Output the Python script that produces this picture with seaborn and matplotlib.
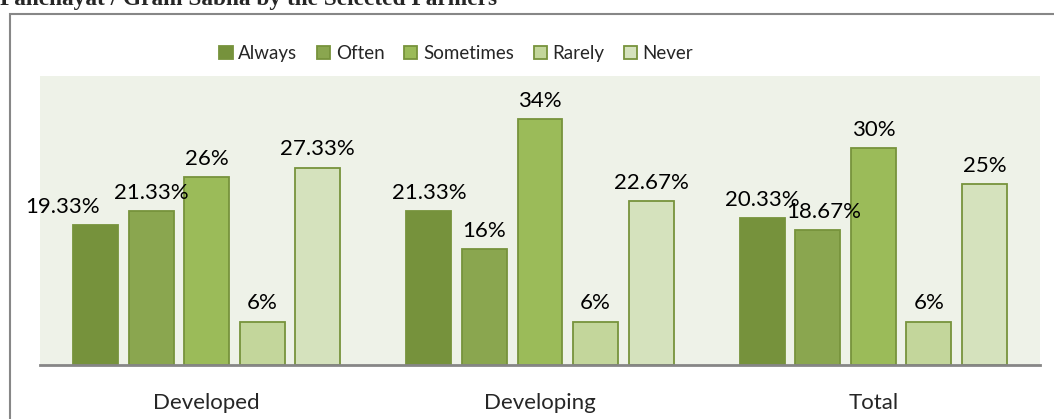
import matplotlib as mtl
mtl.use('Agg')
import pandas as pd
import seaborn as sns
import matplotlib.pyplot as plt
from matplotlib.patches import Rectangle

# data
groups = ['Developed', 'Developing', 'Total']
responses = ['Always', 'Often', 'Sometimes', 'Rarely', 'Never']
developed = [19.33, 21.33, 26, 6, 27.33]
developing = [21.33, 16, 34, 6, 22.67]
total = [20.33, 18.67, 30, 6, 25]
title = 'Panchayat / Gram Sabha by the Selected Farmers'

colors = ['#76923C', '#8AA64F', '#9BBB59', '#C3D69B', '#D5E2BD']

rows = []
for g, vals in zip(groups, [developed, developing, total]):
    for r, v in zip(responses, vals):
        rows.append({'group': g, 'response': r, 'value': v})
df = pd.DataFrame(rows)

sns.set_style('white')
plt.rcParams['font.family'] = ['Lato', 'DejaVu Sans']

fig = plt.figure(figsize=(10.54, 4.19), dpi=100)
ax = fig.add_axes([40/1054, 54/419, 1000/1054, 289/419])

sns.barplot(data=df, x='group', y='value', hue='response', hue_order=responses,
            palette=colors, width=0.833, gap=0.19, edgecolor='#77933C',
            linewidth=1.3, saturation=1, ax=ax)

ax.set_facecolor('#EEF2E8')
ax.set_ylim(0, 40)
ax.set_xlim(-0.5, 2.5)
ax.set_xlabel('')
ax.set_ylabel('')
ax.set_yticks([])
ax.tick_params(axis='x', length=0, pad=20, labelsize=16)
for s in ['top', 'right', 'left']:
    ax.spines[s].set_visible(False)
ax.spines['bottom'].set_color('#868686')
ax.spines['bottom'].set_linewidth(2)

# value labels, a couple nudged sideways as in the original
nudge = {('Developed', 'Always'): -24, ('Total', 'Often'): 4}
for hi, cont in enumerate(ax.containers):
    for gi, bar in enumerate(cont):
        v = bar.get_height()
        dx = nudge.get((groups[gi], responses[hi]), 0)
        ax.annotate('{:g}%'.format(v), xy=(bar.get_x() + bar.get_width()/2, v),
                    xytext=(dx, 6), textcoords='offset points',
                    ha='center', va='bottom', fontsize=16, color='black')

handles, labels = ax.get_legend_handles_labels()
ax.get_legend().remove()
fig.legend(handles, labels, loc='center', bbox_to_anchor=(0.433, 0.873), ncol=5,
           frameon=False, fontsize=13.5, handlelength=0.7, handleheight=0.7,
           handletextpad=0.3, columnspacing=1.05)

# outer chart frame and the caption line above it, clipped at the top like the page
fig.patches.append(Rectangle((10/1054, -0.1), 1.2, 1.1 - 14/419, transform=fig.transFigure,
                             fill=False, edgecolor='#878787', linewidth=1.5))
fig.text(0.0, 1 - 5/419, title, va='baseline', ha='left', fontsize=16.8,
         fontweight='bold', fontfamily='Liberation Serif')

fig.savefig('out.png', dpi=100)
